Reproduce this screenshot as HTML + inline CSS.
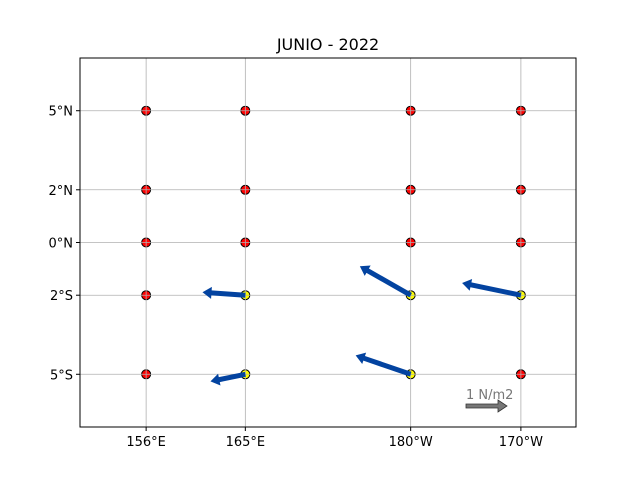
<!DOCTYPE html>
<html><head><meta charset="utf-8"><style>
body{margin:0;background:#fff;font-family:"Liberation Sans","DejaVu Sans",sans-serif;}
</style></head><body>
<svg id="chart" width="640" height="480" xmlns="http://www.w3.org/2000/svg" font-family="DejaVu Sans, Liberation Sans, sans-serif">
<text x="328" y="50" text-anchor="middle" font-size="16">JUNIO - 2022</text>
<g id="markers"></g><g id="grid"></g><g id="arrows"></g><g id="ticks"></g>
<rect x="80" y="58" width="496" height="369" fill="none" stroke="#000" stroke-width="1"/>
</svg>
<script>
const lonTicks=[156,165,180,190];
const lonLabels=["156°E","165°E","180°W","170°W"];
const latTicks=[5,2,0,-2,-5];
const latLabels=["5°N","2°N","0°N","2°S","5°S"];
const redLon=[156,165,180,190,156,165,180,190,156,165,180,190,156,156,190];
const redLat=[5,5,5,5,2,2,2,2,0,0,0,0,-2,-5,-5];
const arrLon=[165,165,180,180,190];
const arrLat=[-2,-5,-2,-5,-2];
const arrU=[-1.02,-0.83,-1.21,-1.31,-1.40];
const arrV=[0.07,-0.17,0.69,0.45,0.29];
const keyValue=[1];
const X0=80,X1=576,Y0=58,Y1=427,LON0=150,LON1=195,LAT0=-7,LAT1=7,SCALE=42;
const x=l=>X0+(l-LON0)/(LON1-LON0)*(X1-X0);
const y=l=>Y1-(l-LAT0)/(LAT1-LAT0)*(Y1-Y0);
const NS="http://www.w3.org/2000/svg";
function mk(t,a,p){const e=document.createElementNS(NS,t);for(const k in a)e.setAttribute(k,a[k]);p.appendChild(e);return e;}
const G=document.getElementById('grid'),M=document.getElementById('markers'),A=document.getElementById('arrows'),T=document.getElementById('ticks');
lonTicks.forEach((l,i)=>{
 const g=mk('line',{x1:x(l),x2:x(l),y1:Y0,y2:Y1,stroke:'#b0b0b0','stroke-width':0.8},G);
 
 
 const t=mk('line',{x1:x(l),x2:x(l),y1:Y1,y2:Y1+4,stroke:'#000'},T);
 
 
 const tx=mk('text',{x:x(l),y:Y1+19,'text-anchor':'middle','font-size':13},T);tx.textContent=lonLabels[i];
 
 
});
latTicks.forEach((l,i)=>{
 const g=mk('line',{x1:X0,x2:X1,y1:y(l),y2:y(l),stroke:'#b0b0b0','stroke-width':0.8},G);
 
 
 const t=mk('line',{x1:X0-4,x2:X0,y1:y(l),y2:y(l),stroke:'#000'},T);
 
 
 const tx=mk('text',{x:X0-7,y:y(l)+5,'text-anchor':'end','font-size':13},T);tx.textContent=latLabels[i];
 
 
});
redLon.forEach((l,i)=>{
 const c=mk('circle',{cx:x(l),cy:y(redLat[i]),r:4.5,fill:'#ff0000',stroke:'#000','stroke-width':1},M);
 
 
});
function arrow(x0,y0,dx,dy,col,w,par){
 const L=Math.hypot(dx,dy),ux=dx/L,uy=dy/L,px=-uy,py=ux,h=9,hw=6;
 const bx=x0+dx-ux*h,by=y0+dy-uy*h;
 const pts=[[x0+px*w/2,y0+py*w/2],[bx+px*w/2,by+py*w/2],[bx+px*hw,by+py*hw],[x0+dx,y0+dy],[bx-px*hw,by-py*hw],[bx-px*w/2,by-py*w/2],[x0-px*w/2,y0-py*w/2]];
 return mk('polygon',{points:pts.map(p=>p.join(',')).join(' '),fill:col,stroke:col==='#0343a0'?'none':'#333','stroke-width':0.8},par);
}
arrLon.forEach((l,i)=>{
 const c=mk('circle',{cx:x(l),cy:y(arrLat[i]),r:4.5,fill:'#ffff00',stroke:'#000','stroke-width':1},M);
 
 
 const a=arrow(x(l),y(arrLat[i]),arrU[i]*SCALE,-arrV[i]*SCALE,'#0343a0',5,A);
 
 
});
const k=arrow(466,406,keyValue[0]*SCALE-1,0,'#777777',4,A);


const kt=mk('text',{x:466,y:399,'font-size':13,fill:'#777'},A);kt.textContent='1 N/m2';


</script>
</body></html>
